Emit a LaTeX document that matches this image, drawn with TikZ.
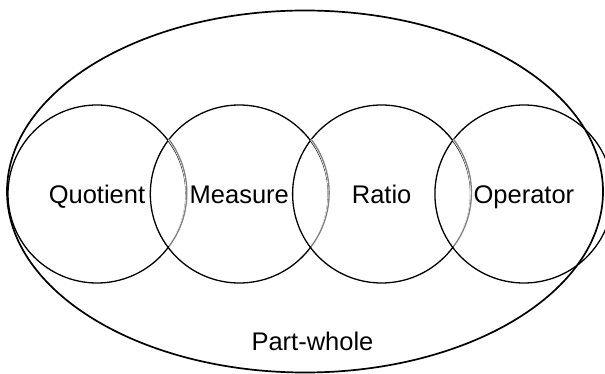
\documentclass[tikz,border=0pt]{standalone}
\usepackage{fontspec}
\setmainfont{Liberation Sans}
\usetikzlibrary{shapes.geometric}
\begin{document}
\begin{tikzpicture}[x=1pt,y=-1pt,
  setcircle/.style={circle, draw=black, line width=1.3pt, minimum size=178pt, inner sep=0pt, outer sep=0pt,
    font=\fontsize{25.5}{28}\selectfont, text height=18.3pt, text depth=0pt},
  overlaparc/.style={draw=black!50, line width=1.3pt},
  wholeset/.style={ellipse, draw=black, line width=1.7pt, minimum width=596pt, minimum height=362pt, inner sep=0pt, outer sep=0pt},
  lbl/.style={font=\fontsize{25.5}{28}\selectfont, text height=18.3pt, text depth=0pt, inner sep=0pt}]
\useasboundingbox (0,0) rectangle (605,374);
\clip (0,0) rectangle (605,374);
\node[wholeset] (pw) at (305,191.5) {};
\node[setcircle] (q) at (97,194) {Quotient};
\node[setcircle] (m) at (239.3,194) {Measure};
\node[setcircle] (r) at (381.6,194) {Ratio};
\node[setcircle] (o) at (523.9,194) {Operator};
\foreach \c in {q,m,r}{
  \draw[white, line width=2.6pt] (\c.-36.9) arc[start angle=-36.9, end angle=36.9, radius=89pt];
  \draw[overlaparc] (\c.-36.9) arc[start angle=-36.9, end angle=36.9, radius=89pt];
}
\node[lbl] (pwl) at (312.5,341) {Part-whole};
\end{tikzpicture}
\end{document}
